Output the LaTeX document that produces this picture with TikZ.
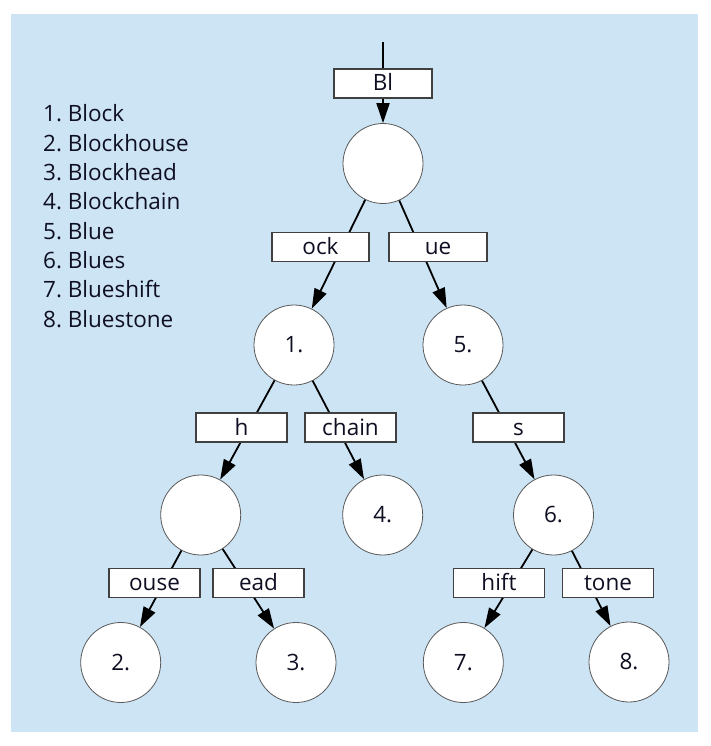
\documentclass[tikz,border=0pt]{standalone}
\usepackage{fontspec}
\setmainfont{Open Sans}
\usetikzlibrary{arrows.meta}
\definecolor{bgblue}{RGB}{205,228,244}
\definecolor{txt}{RGB}{15,15,35}

\begin{document}
\begin{tikzpicture}[x=1pt, y=-1pt, >={Triangle[length=20pt,width=13pt]},
        font=\fontsize{22.5}{26}\selectfont, text=txt]
        \useasboundingbox (0,0) rectangle (711,746);
        \fill[bgblue] (11,14) rectangle (698,732);

        \foreach \i/\w in {1/Block, 2/Blockhouse, 3/Blockhead, 4/Blockchain, 5/Blue, 6/Blues, 7/Blueshift, 8/Bluestone}
            \node[anchor=base west, inner sep=0pt] (l\i) at (43, {122+29.3*(\i-1)}) {\i.\ \w};

        \begin{scope}[every node/.style={circle, draw=black!65, fill=white, line width=0.8pt, minimum size=80pt, inner sep=0pt}]
            \node (r) at (383, 163.5) {};
            \node (1) at (294, 345) {1.};
            \node (5) at (463, 345) {5.};
            \node (h) at (200.7, 515) {};
            \node (4) at (382.7, 515) {4.};
            \node (6) at (553.5, 515) {6.};
            \node (2) at (120.7, 662.5) {2.};
            \node (3) at (296, 662.5) {3.};
            \node (7) at (463.3, 662.5) {7.};
            \node (8) at (629, 662) {8.};
        \end{scope}

        \coordinate (top) at (383, 42);
        \begin{scope}[line width=1.8pt]
            \draw[->] (top) -- (r);
            \draw[->] (r) -- (1);
            \draw[->] (r) -- (5);
            \draw[->] (1) -- (h);
            \draw[->] (1) -- (4);
            \draw[->] (5) -- (6);
            \draw[->] (h) -- (2);
            \draw[->] (h) -- (3);
            \draw[->] (6) -- (7);
            \draw[->] (6) -- (8);
        \end{scope}

        \begin{scope}[every node/.style={rectangle, draw=black!75, fill=white, line width=1.2pt, minimum width=91pt, minimum height=29pt, inner sep=0pt, text height=17pt, text depth=2pt}]
            \node (bl) at (383, 83.5) [minimum width=98pt] {Bl};
            \node (ock) at (320.5, 247) [minimum width=97pt] {ock};
            \node (ue) at (438, 247) [minimum width=98pt] {ue};
            \node (hh) at (241.5, 427.5) {h};
            \node (chain) at (350.5, 427.5) {chain};
            \node (s) at (518.5, 427.5) {s};
            \node (ouse) at (154.5, 583) {ouse};
            \node (ead) at (258.5, 583) {ead};
            \node (hift) at (499, 583) {hift};
            \node (tone) at (608, 583) {tone};
        \end{scope}
    \end{tikzpicture}
\end{document}
